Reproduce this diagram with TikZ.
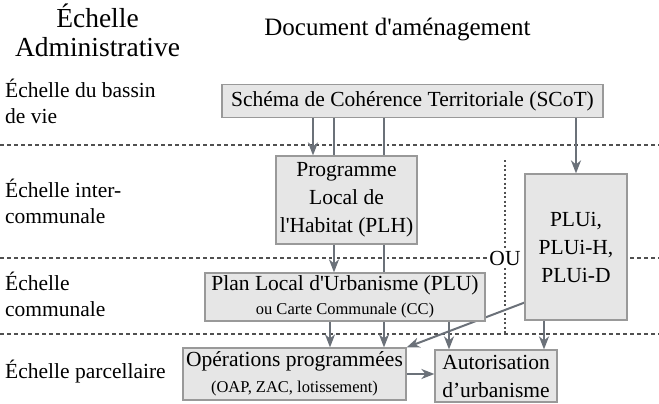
\documentclass[tikz,border=0pt]{standalone}
\usepackage{fontspec}
\setmainfont{Liberation Serif}
\usetikzlibrary{arrows.meta,calc}
\definecolor{boxfill}{HTML}{E6E6E6}
\definecolor{boxline}{HTML}{999999}
\definecolor{arr}{HTML}{6B7179}
\definecolor{sep}{HTML}{505050}
\pgfdeclarelayer{back}
\pgfdeclarelayer{mid}
\pgfsetlayers{back,mid,main}
\begin{document}
\begin{tikzpicture}[x=1pt,y=-1pt,
  doc/.style={draw=boxline, fill=boxfill, line width=1.2pt, inner sep=0pt, align=center, font=\fontsize{21.5}{28}\selectfont},
  flow/.style={draw=arr, line width=2pt, -{Stealth[length=13pt,width=10pt,inset=4pt]}},
  halo/.style={preaction={draw=white, line width=5pt, -}},
  sepline/.style={draw=sep, line width=1.2pt, dash pattern=on 4pt off 3pt},
  vsep/.style={draw=sep, line width=1.2pt, dash pattern=on 2pt off 2.5pt},
  lab/.style={anchor=base west, align=left, inner sep=0pt, font=\fontsize{21.5}{25.5}\selectfont},
  ttl/.style={anchor=base, align=center, inner sep=0pt}]
\useasboundingbox (0,0) rectangle (659,404);

% titles (base anchor = baseline of the last line)
\node[ttl, font=\fontsize{27.5}{29}\selectfont] (t1) at (97.5,57) {Échelle\\Administrative};
\node[ttl, font=\fontsize{25}{28}\selectfont] (t2) at (397.5,36) {Document d\textquotesingle aménagement};

% scale labels
\node[lab] (l1) at (5,123) {Échelle du bassin\\de vie};
\node[lab] (l2) at (5,223) {Échelle inter-\\communale};
\node[lab] (l3) at (5,316) {Échelle\\communale};
\node[lab] (l4) at (5,378) {Échelle parcellaire};

% documents
\node[doc, minimum width=381pt, minimum height=33pt] (scot) at (412.5,101) {Schéma de Cohérence Territoriale (SCoT)};
\node[doc, minimum width=141pt, minimum height=88pt] (plh) at (346.5,200) {Programme\\Local de\\l\textquotesingle Habitat (PLH)};
\node[doc, minimum width=102pt, minimum height=146pt] (plui) at (576,247) {PLUi,\\PLUi-H,\\PLUi-D};
\node[doc, minimum width=280pt, minimum height=48pt] (plu) at (345,297) {Plan Local d\textquotesingle Urbanisme (PLU)\\[-4pt]{\fontsize{16.5}{20}\selectfont ou Carte Communale (CC)}};
\node[doc, minimum width=223pt, minimum height=52pt] (op) at (294.5,374) {Opérations programmées\\[-2pt]{\fontsize{16.5}{20}\selectfont (OAP, ZAC, lotissement)}};
\node[doc, minimum width=122pt, minimum height=52pt] (aut) at (496,376) {Autorisation\\d’urbanisme};
\node[fill=white, inner sep=1pt, font=\fontsize{21.5}{25}\selectfont] (ou) at (505,258) {OU};

% helper coordinates
\coordinate (x313) at (313,0);
\coordinate (x334) at (334,0);
\coordinate (x330) at (330,0);
\coordinate (x384) at (384,0);
\coordinate (x449) at (449,0);
\coordinate (x544) at (544,0);
\coordinate (s1a) at (0,145);
\coordinate (s1b) at (659,145);
\coordinate (s2a) at (0,258);
\coordinate (s2b) at (659,258);
\coordinate (s3a) at (0,334);
\coordinate (s3b) at (659,334);
\coordinate (v1) at (505,160);
\coordinate (v2) at (505,334);
\coordinate (d1) at ($(plui.south west)+(0,-18)$);

\begin{pgfonlayer}{back}
  \draw[sepline] (s1a) -- (s1b);
  \draw[sepline] (s2a) -- (s2b);
  \draw[sepline] (s3a) -- (s3b);
  \draw[vsep] (v1) -- (v2);
\end{pgfonlayer}

\begin{pgfonlayer}{mid}
  \draw[flow] (scot.south -| x313) -- (plh.north -| x313);
  \draw[flow, halo] (scot.south -| x334) -- (plu.north -| x334);
  \draw[flow, halo] (scot.south -| x384) -- (op.north -| x384);
  \draw[flow] (scot.south -| plui.north) -- (plui.north);
  \draw[flow] (plu.south -| x330) -- (op.north -| x330);
  \draw[flow] (plu.south -| x449) -- (aut.north -| x449);
  \draw[flow] (plui.south -| x544) -- (aut.north -| x544);
  \draw[flow] (d1) -- (op.north east);
  \draw[flow] (op.east) -- (op.east -| aut.west);
\end{pgfonlayer}
\end{tikzpicture}
\end{document}
